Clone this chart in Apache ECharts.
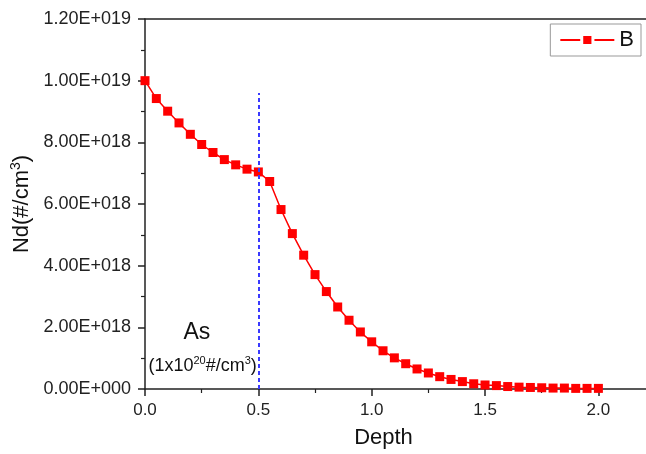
<!DOCTYPE html>
<html>
<head>
<meta charset="utf-8">
<script src="https://cdn.jsdelivr.net/npm/echarts@6/dist/echarts.min.js"></script>
<style>html,body{margin:0;padding:0;background:#fff;}#c{width:646px;height:454px;}</style>
</head>
<body>
<div id="c"></div>
<script>
// Data
const depth = [0.00,0.05,0.10,0.15,0.20,0.25,0.30,0.35,0.40,0.45,0.50,0.55,0.60,0.65,0.70,0.75,0.80,0.85,0.90,0.95,1.00,1.05,1.10,1.15,1.20,1.25,1.30,1.35,1.40,1.45,1.50,1.55,1.60,1.65,1.70,1.75,1.80,1.85,1.90,1.95,2.00];
const ndB = [1.00e19,9.42e18,9.01e18,8.63e18,8.26e18,7.93e18,7.67e18,7.44e18,7.27e18,7.13e18,7.04e18,6.73e18,5.82e18,5.04e18,4.34e18,3.71e18,3.16e18,2.66e18,2.23e18,1.85e18,1.53e18,1.24e18,1.01e18,8.2e17,6.5e17,5.2e17,4.0e17,3.1e17,2.4e17,1.7e17,1.3e17,1.1e17,8e16,6e16,5e16,4e16,3e16,3e16,2e16,2e16,2e16];
const seriesName = 'B';
const xTicks = [0.0, 0.5, 1.0, 1.5, 2.0];
const markerX = 0.5;
const markerTop = 9.6e18;

const font = 'Liberation Sans, Arial, sans-serif';
function sci(v) {
  if (v === 0) return '0.00E+000';
  let e = Math.floor(Math.log10(Math.abs(v)) + 1e-12);
  let m = v / Math.pow(10, e);
  return m.toFixed(2) + 'E+' + String(e).padStart(3, '0');
}
const chart = echarts.init(document.getElementById('c'));
chart.setOption({
  animation: false,
  backgroundColor: '#fff',
  grid: { left: 145, top: 19, right: 0, bottom: 64 },
  legend: {
    data: [seriesName],
    right: 5, top: 24,
    padding: [5, 7, 5, 9],
    borderColor: '#999', borderWidth: 1,
    itemWidth: 54, itemHeight: 14,
    itemStyle: { borderColor: '#fff', borderWidth: 3 },
    textStyle: { fontFamily: font, fontSize: 22, color: '#111' }
  },
  xAxis: [{
    type: 'value', min: 0, max: 2.21, interval: 0.5,
    name: 'Depth', nameLocation: 'middle', nameGap: 38,
    nameTextStyle: { fontFamily: font, fontSize: 22, color: '#111', padding: [0, 24, 0, 0] },
    axisLine: { lineStyle: { color: '#222', width: 1.5 } },
    axisTick: { show: true, length: 7, inside: false, lineStyle: { color: '#222', width: 1.5 },
      customValues: xTicks },
    minorTick: { show: true, splitNumber: 2, length: 4, lineStyle: { color: '#222', width: 1.2 } },
    axisLabel: { margin: 13, fontFamily: font, fontSize: 17, color: '#222',
      customValues: xTicks, formatter: v => v.toFixed(1) },
    splitLine: { show: false }
  }, {
    type: 'value', position: 'top', min: 0, max: 2.21,
    axisLine: { show: true, onZero: false, lineStyle: { color: '#222', width: 1.5 } },
    axisTick: { show: false }, axisLabel: { show: false }, splitLine: { show: false }
  }],
  yAxis: {
    type: 'value', min: 0, max: 1.2e19, interval: 2e18,
    name: 'Nd(#/cm{sup|3})', nameLocation: 'middle', nameGap: 107,
    nameTextStyle: { fontFamily: font, fontSize: 22, color: '#111',
      rich: { sup: { fontFamily: font, fontSize: 14, color: '#111', padding: [0, 0, 11, 0] } } },
    axisLine: { show: true, lineStyle: { color: '#222', width: 1.5 } },
    axisTick: { show: true, length: 7, lineStyle: { color: '#222', width: 1.5 } },
    minorTick: { show: true, splitNumber: 2, length: 4, lineStyle: { color: '#222', width: 1.2 } },
    axisLabel: { margin: 14, fontFamily: font, fontSize: 18, color: '#222', formatter: sci },
    splitLine: { show: false }
  },
  series: [{
    name: seriesName, type: 'line',
    data: depth.map((d, i) => [d, ndB[i]]),
    symbol: 'rect', symbolSize: 9,
    itemStyle: { color: '#ff0000' },
    lineStyle: { color: '#ff0000', width: 1.5 },
    markLine: {
      silent: true, symbol: 'none', label: { show: false },
      lineStyle: { color: '#3a3aff', width: 2, type: [4, 3] },
      data: [[{ coord: [markerX, 0] }, { coord: [markerX, markerTop] }]]
    },
    markPoint: {
      silent: true, symbol: 'circle', symbolSize: 0,
      data: [
        { coord: [0.229, 1.84e18], label: { show: true, position: 'inside', formatter: 'As',
            fontFamily: font, fontSize: 23, color: '#111' } },
        { coord: [0.254, 0.74e18], label: { show: true, position: 'inside',
            formatter: '(1x10{sup|20}#/cm{sup|3})',
            fontFamily: font, fontSize: 18, color: '#111',
            rich: { sup: { fontFamily: font, fontSize: 11, color: '#111', padding: [0, 0, 10, 0] } } } }
      ]
    }
  }]
});
</script>
</body>
</html>
